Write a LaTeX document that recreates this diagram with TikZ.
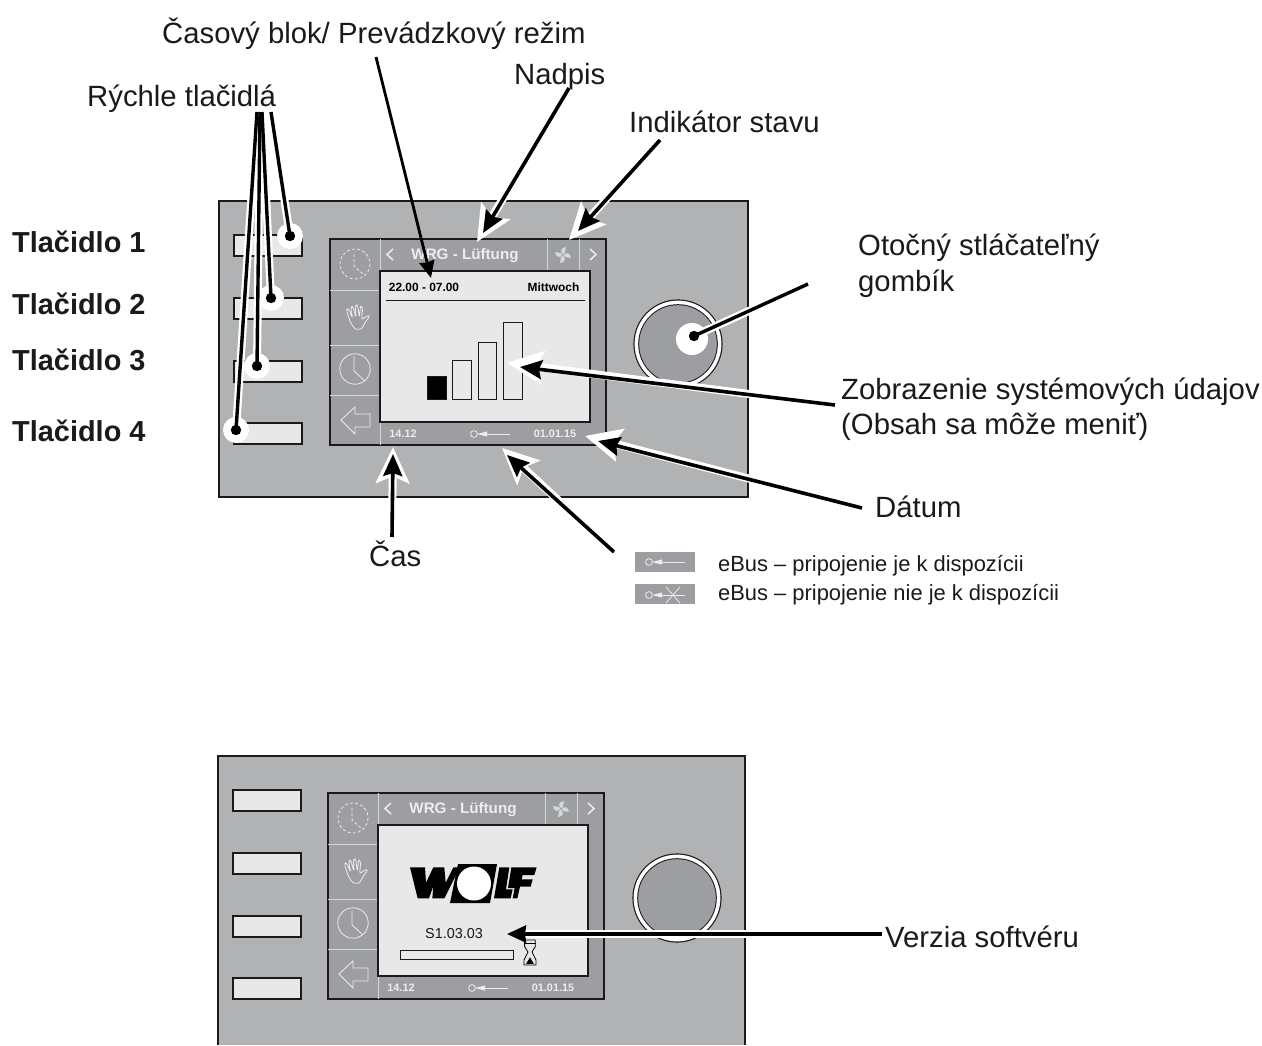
\documentclass[tikz,border=0pt]{standalone}
\usepackage{fontspec}
\setmainfont{Liberation Sans}
\usetikzlibrary{arrows.meta}
\definecolor{panelgrey}{HTML}{B1B2B4}
\definecolor{screengrey}{HTML}{9D9EA1}
\definecolor{lightface}{HTML}{E7E8E7}
\definecolor{inktext}{HTML}{1A1A1A}
\definecolor{softwhite}{HTML}{EDEDED}
\definecolor{divline}{HTML}{D6D7D7}
\newcommand{\fs}[1]{\fontsize{#1}{#1}\selectfont}
\tikzset{
  lab/.style={inner sep=0pt,text=inktext,font=\fs{29.3},anchor=base west},
  labb/.style={inner sep=0pt,text=inktext,font=\bfseries\fs{28.9},anchor=base west},
  leg/.style={inner sep=0pt,text=inktext,font=\fs{21.9},anchor=base west},
  panelbox/.style={fill=panelgrey},
  edge/.style={draw=inktext,line width=1.3pt},
  keybtn/.style={fill=lightface,draw=inktext,line width=1.2pt},
  wl/.style={draw=divline,line width=1pt},
  wlthin/.style={draw=softwhite,line width=0.8pt},
  hdr/.style={inner sep=0pt,text=softwhite,font=\bfseries\fs{15.2}},
  foot/.style={inner sep=0pt,text=softwhite,font=\bfseries\fs{10.8}},
  disp/.style={inner sep=0pt,text=black,font=\bfseries\fs{11.9}},
  halo/.style={draw=white,line width=8pt,-{Stealth[length=36pt,width=33pt,inset=7pt]}},
  blackarrow/.style={draw=black,line width=3.6pt,-{Stealth[length=22pt,width=19pt,inset=3pt]}},
  haloline/.style={draw=white,line width=8pt},
  blackline/.style={draw=black,line width=3.4pt},
  thinarrow/.style={draw=black,line width=2.8pt,-{Stealth[length=17pt,width=15pt,inset=1pt]}},
}
\newcommand{\screenbody}[3]{%
\begin{scope}[shift={(#2,#3)}]
  \path[fill=screengrey,edge] (0,0) rectangle (276,206);
  \draw[wl] (50,0) -- (50,206);
  \draw[wl] (0,51) -- (50,51) (0,106) -- (50,106) (0,156) -- (50,156);
  \draw[wl] (217,0) -- (217,32) (249,0) -- (249,32);
  \path[fill=lightface,draw=inktext,line width=1.2pt] (50,32) rectangle (260,183);
  \draw[wlthin,dash pattern=on 3pt off 2.2pt] (25,25) circle (15);
  \draw[wlthin,dash pattern=on 3pt off 2.2pt] (24,15) -- (24,27) -- (33,35);
  \begin{scope}[shift={(-10,-9)},scale=0.3333]
    \draw[wlthin,line join=round,rounded corners=2.2pt] (106,298) -- (125,298) -- (133,280) -- (150,258) -- (141,257) -- (125,270) -- (128,234) -- (122,225) -- (118,262) -- (113,224) -- (106,227) -- (108,262) -- (98,228) -- (92,232) -- (98,265) -- (85,235) -- (79,240) -- (92,280) -- cycle;
  \end{scope}
  \draw[wlthin] (25,130) circle (15.2);
  \draw[wlthin] (24,117) -- (24,132) -- (35,142);
  \draw[wlthin] (11,181) -- (25,168) -- (25,175) -- (40,175) -- (40,188) -- (25,188) -- (25,195) -- cycle;
  \draw[draw=softwhite,line width=1.5pt] (63,10) -- (57,15.5) -- (63,21);
  \draw[draw=softwhite,line width=1.5pt] (260,10) -- (266,15.5) -- (260,21);
  \node[hdr] (#1title) at (135,16.5) {WRG - Lüftung};
  \begin{scope}[shift={(233,16)}]
    \foreach \a in {0,90,180,270}
      \fill[divline,rotate=\a] (0.6,-0.6) .. controls (-3.5,-2.5) and (-2.5,-7.5) .. (3,-8) .. controls (1.5,-5.5) and (3.5,-3) .. (0.6,-0.6);
  \end{scope}
  \node[foot] (#1time) at (73,195) {14.12};
  \node[foot] (#1date) at (225,195) {01.01.15};
  \keyicon{144}{195}{180}
\end{scope}}
\newcommand{\keyicon}[3]{%
  \draw[wlthin] (#1,#2) circle (3.4);
  \fill[softwhite] (#1+3,#2) -- (#1+13,#2-2.6) -- (#1+13,#2+2.6) -- cycle;
  \draw[wlthin] (#1+13,#2) -- (#3,#2);}
\newcommand{\panelbuttons}[5]{%
  \foreach \yy in {#2,#3,#4,#5} \path[keybtn] (#1,\yy) rectangle ++(68,21);}
\newcommand{\knob}[2]{%
  \fill[inktext] (#1,#2) circle (44.6);
  \fill[white] (#1,#2) circle (43.4);
  \fill[inktext] (#1,#2) circle (39.8);
  \fill[screengrey] (#1,#2) circle (38.8);}
\begin{document}
\begin{tikzpicture}[x=1pt,y=-1pt]
\useasboundingbox (0,0) rectangle (1262,1045);
\path[panelbox,edge] (219,201) rectangle (748,497);
\panelbuttons{234}{235}{298}{361}{423}
\screenbody{a}{330}{239}
\knob{678}{344}
\node[disp] (range) at (424,287) {22.00 - 07.00};
\node[disp] (day) at (553.5,287) {Mittwoch};
\draw[draw=inktext,line width=1pt] (386,300) -- (585,300);
\path[fill=black,draw=inktext,line width=1pt] (427,376) rectangle (446,399);
\path[fill=lightface,draw=inktext,line width=1pt] (452,360) rectangle (471,399);
\path[fill=lightface,draw=inktext,line width=1pt] (478,342) rectangle (496,399);
\path[fill=lightface,draw=inktext,line width=1pt] (503,322) rectangle (522,399);
\node[lab] (lblock) at (162,43) {Časový blok/ Prevádzkový režim};
\node[lab] (lhead) at (514,84) {Nadpis};
\node[lab] (lquick) at (87,106) {Rýchle tlačidlá};
\node[lab] (lstate) at (629,132) {Indikátor stavu};
\node[labb] (b1) at (12,252) {Tlačidlo 1};
\node[labb] (b2) at (12,314) {Tlačidlo 2};
\node[labb] (b3) at (12,370) {Tlačidlo 3};
\node[labb] (b4) at (12,441) {Tlačidlo 4};
\node[lab] (lknoba) at (858,255) {Otočný stláčateľný};
\node[lab] (lknobb) at (858,291) {gombík};
\node[lab] (lsysa) at (841,399) {Zobrazenie systémových údajov};
\node[lab] (lsysb) at (841,434) {(Obsah sa môže meniť)};
\node[lab] (ldate) at (875,517) {Dátum};
\node[lab] (ltime) at (369,566) {Čas};
\node[leg] (lega) at (718,571.5) {eBus – pripojenie je k dispozícii};
\node[leg] (legb) at (718,600.5) {eBus – pripojenie nie je k dispozícii};
\fill[screengrey] (635,552) rectangle (695,572);
\keyicon{649}{562}{685}
\fill[screengrey] (635,584) rectangle (695,604);
\keyicon{649}{595}{685}
\draw[draw=softwhite,line width=0.8pt] (666,587) -- (680,603) (680,587) -- (666,603);
\coordinate (q1s) at (271,112);
\coordinate (q2s) at (262,112);
\coordinate (q3s) at (260,112);
\coordinate (q4s) at (257,112);
\coordinate (q1) at (290,236);
\coordinate (q2) at (271,298);
\coordinate (q3) at (257,366);
\coordinate (q4) at (236,430);
\coordinate (kn) at (694,336);
\coordinate (kns) at (808,284);
\foreach \p in {q1,q2,q3,q4} \fill[white] (\p) circle (13);
\fill[white] (692,339) circle (16);
\foreach \s/\e in {q4s/q4,q3s/q3,q2s/q2,q1s/q1,kns/kn} \draw[haloline] (\s) -- (\e);
\foreach \s/\e in {q4s/q4,q3s/q3,q2s/q2,q1s/q1,kns/kn} {\draw[blackline] (\s) -- (\e); \fill[black] (\e) circle (5.2);}
\foreach \xa/\ya/\xb/\yb/\xc/\yc in {
  569/88/477/242/483/233,
  660/140/569/240/578/231,
  835/405/507/363/520/367,
  862/508/585/436/598/441,
  614/552/502/448/507/455,
  392/537/393/447/393/454}{
  \coordinate (hs) at (\xa,\ya); \coordinate (ht) at (\xb,\yb); \coordinate (bt) at (\xc,\yc);
  \draw[halo] (hs) -- (ht);
  \draw[blackarrow] (hs) -- (bt);
}
\coordinate (blocks) at (376,57);
\coordinate (blockt) at (431,278);
\draw[thinarrow] (blocks) -- (blockt);
\fill[panelgrey] (218,756) rectangle (745,1045);
\draw[edge] (218,1045) -- (218,756) -- (745,756) -- (745,1045);
\panelbuttons{233}{790}{853}{916}{978}
\screenbody{c}{328}{793}
\knob{677}{898}
% WOLF logo
\begin{scope}[shift={(405,860)},scale=0.3333]
  \fill[black] (15,22) -- (60,22) -- (63,68) -- (85,22) -- (118,22) -- (122,68) -- (145,22) -- (165,22) -- (118,115) -- (82,115) -- (85,78) -- (72,115) -- (38,115) -- cycle;
\end{scope}
\fill[black] (458,864) -- (497,864) -- (490,903) -- (450,903) -- cycle;
\fill[white] (474,883.5) circle (17);
\begin{scope}[shift={(470,860)},scale=0.3333]
  \fill[black] (88,22) -- (118,22) -- (108,88) -- (128,88) -- (122,115) -- (72,115) -- cycle;
  \fill[black] (124,22) -- (200,22) -- (193,45) -- (158,45) -- (155,58) -- (188,58) -- (182,80) -- (150,80) -- (142,115) -- (128,115) -- (134,84) -- (114,84) -- cycle;
\end{scope}
\node[inner sep=0pt,text=inktext,font=\fs{14.4}] (ver) at (454,934) {S1.03.03};
\path[fill=lightface,draw=inktext,line width=1pt] (400,950) rectangle (513,959);
\begin{scope}[shift={(320,780)},scale=0.3333]
  \path[fill=lightface,draw=black,line width=0.8pt] (614,480) -- (646,480) -- (646,500) -- (636,516) -- (648,540) -- (648,555) -- (612,555) -- (612,540) -- (624,516) -- (614,500) -- cycle;
  \fill[black] (618,552) -- (642,552) -- (630,532) -- cycle;
  \draw[black,line width=1pt] (612,490) -- (648,490);
\end{scope}
\coordinate (vers) at (882,934);
\coordinate (vert) at (507,934);
\draw[haloline] (vers) -- (525,934);
\draw[draw=black,line width=3.2pt,-{Stealth[length=19pt,width=17pt,inset=1pt]}] (vers) -- (vert);
\node[lab] (lver) at (885,947) {Verzia softvéru};
\end{tikzpicture}
\end{document}
